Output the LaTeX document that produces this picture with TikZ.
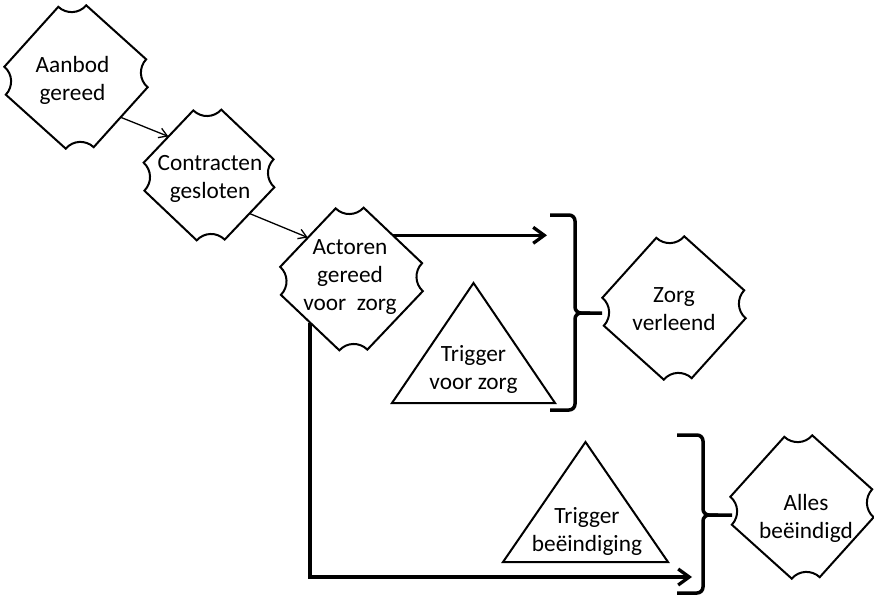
\documentclass[tikz,border=0pt]{standalone}
\usepackage{fontspec}
\setmainfont{Carlito}
\usetikzlibrary{arrows.meta,shapes.geometric}

\tikzset{
  statebox/.style={shape=diamond, draw=none, inner sep=0pt, shape aspect=1,
    minimum width=#1, minimum height=#1},
  outline/.style={draw=black, line width=2pt},
  % text nodes are placed by the baseline of their last line
  lbl/.style={font=\fontsize{23.3}{28}\selectfont, align=center, inner sep=0pt, anchor=base},
  thinarrow/.style={line width=1.3pt, -{Straight Barb[length=8pt,width=10pt]}},
  thickline/.style={line width=3.3pt},
  thickarrow/.style={thickline, -{Straight Barb[length=11pt,width=16pt]}},
  brace/.style={line width=3.5pt, rounded corners=6pt},
  tri/.style={draw=black, line width=2pt, line join=miter},
}

% state outline: a diamond whose four tips are cut off and replaced by inward arcs
% #1 node name, #2 rotation, #3 half extent, #4 half width of the cut
\newcommand\stateoutline[4]{%
  \draw[outline, shift={(#1.center)}, rotate=#2]
    ({-#4},{-#3}) .. controls ({-0.45*#4},{-#3+8}) and ({0.45*#4},{-#3+8}) .. ({#4},{-#3})
    -- ({#3},{-#4}) .. controls ({#3-8},{-0.45*#4}) and ({#3-8},{0.45*#4}) .. ({#3},{#4})
    -- ({#4},{#3}) .. controls ({0.45*#4},{#3-8}) and ({-0.45*#4},{#3-8}) .. ({-#4},{#3})
    -- ({-#3},{#4}) .. controls ({-#3+8},{0.45*#4}) and ({-#3+8},{-0.45*#4}) .. ({-#3},{-#4})
    -- cycle;}

\begin{document}
\begin{tikzpicture}[x=1pt, y=-1pt]
  \useasboundingbox[fill=white] (0,0) rectangle (874,599);

  % states
  \node[statebox=170pt, rotate=3]   (aanbod)   at (76,77)    {};
  \node[statebox=158pt, rotate=1.5] (contract) at (209,175)  {};
  \node[statebox=170pt, rotate=1.5] (actoren)  at (351.5,279) {};
  \node[statebox=170pt, rotate=3]   (zorg)     at (674,308)  {};
  \node[statebox=170pt, rotate=3]   (alles)    at (802,507)  {};

  \stateoutline{aanbod}{3}{71}{14}
  \stateoutline{contract}{1.5}{65}{14}
  \stateoutline{actoren}{1.5}{71}{14}
  \stateoutline{zorg}{3}{71}{14}
  \stateoutline{alles}{3}{71}{14}

  \node[lbl] (aanbod-t)   at (72.5,100) {Aanbod\\gereed};
  \node[lbl] (contract-t) at (210,198)  {Contracten\\gesloten};
  \node[lbl] (actoren-t)  at (350,310)  {Actoren\\gereed\\voor\ \ zorg};
  \node[lbl] (zorg-t)     at (674,330)  {Zorg\\verleend};
  \node[lbl] (alles-t)    at (806,538)  {Alles\\beëindigd};

  % triggers
  \coordinate (t1top) at (473.5,283);
  \coordinate (t1r)   at (555,403);
  \coordinate (t1l)   at (392,403);
  \draw[tri] (t1top) -- (t1r) -- (t1l) -- cycle;
  \node[lbl] (t1-t) at (473.5,389) {Trigger\\voor zorg};

  \coordinate (t2top) at (585.5,442);
  \coordinate (t2r)   at (668,562);
  \coordinate (t2l)   at (503,562);
  \draw[tri] (t2top) -- (t2r) -- (t2l) -- cycle;
  \node[lbl] (t2-t) at (587,551) {Trigger\\beëindiging};

  % brackets
  \coordinate (b1top) at (550,215);
  \coordinate (b1bot) at (550,410);
  \coordinate (b1mid) at (575,313);
  \coordinate (b1tip) at (602,313);
  \draw[brace] (b1top) -| (b1mid) -- (b1tip);
  \draw[brace] (b1bot) -| (b1mid) -- ++(15,0);

  \coordinate (b2top) at (677,435);
  \coordinate (b2bot) at (677,593);
  \coordinate (b2mid) at (703,515);
  \coordinate (b2tip) at (732,515);
  \draw[brace] (b2top) -| (b2mid) -- (b2tip);
  \draw[brace] (b2bot) -| (b2mid) -- ++(15,0);

  % connectors
  \draw[thinarrow] (aanbod.south east) -- (contract.north west);
  \draw[thinarrow] (contract.south east) -- (actoren.north west);

  \coordinate (end1) at (547,0);
  \coordinate (end2) at (692,577);
  \draw[thickarrow] (actoren.north east) -- (actoren.north east -| end1);
  \draw[thickarrow] (actoren.south west) |- (end2);
\end{tikzpicture}
\end{document}
